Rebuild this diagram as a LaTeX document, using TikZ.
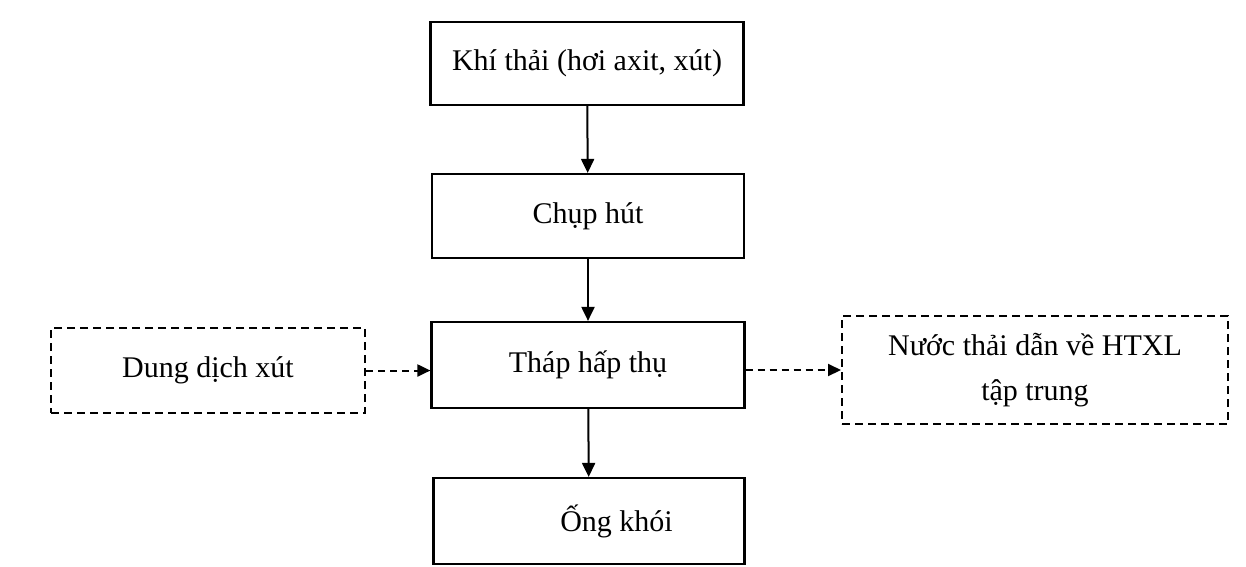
\documentclass[tikz,border=0pt]{standalone}
\usepackage{fontspec}
\setmainfont{Liberation Serif}
\usetikzlibrary{arrows.meta}
\begin{document}
\begin{tikzpicture}[x=1pt,y=-1pt,
  txt/.style={font=\fontsize{30}{45}\selectfont},
  solidbox/.style={draw, line width=2.2pt, inner sep=0pt, txt},
  dashbox/.style={draw, line width=2pt, dash pattern=on 8pt off 5pt, inner sep=0pt, txt, align=center},
  flow/.style={line width=2pt, -{Triangle[length=14pt,width=13pt]}},
  dflow/.style={line width=2pt, dash pattern=on 7pt off 5pt, -{Triangle[length=13pt,width=12pt]}}]
\useasboundingbox (0,0) rectangle (1246,566);
\node[solidbox, minimum width=313pt, minimum height=83pt] (b1) at (587,63.5) {Khí thải (hơi axit, xút)};
\node[solidbox, minimum width=312pt, minimum height=84pt] (b2) at (588,216) {Chụp hút};
\node[solidbox, minimum width=313pt, minimum height=86pt] (b3) at (588,365) {Tháp hấp thụ};
\node[solidbox, minimum width=311pt, minimum height=86pt] (b4) at (589,521) {\hspace*{55pt}Ống khói};
\node[dashbox, minimum width=314pt, minimum height=85pt] (l) at (208,370.5) {Dung dịch xút};
\node[dashbox, minimum width=386pt, minimum height=108pt] (r) at (1035,370) {Nước thải dẫn về HTXL\\tập trung};
\draw[flow] (b1) -- (b2);
\draw[flow] (b2) -- (b3);
\draw[flow] (b3) -- (b4);
\draw[dflow] (l.east) -- (l.east -| b3.west);
\draw[dflow] (b3.east |- r.west) -- (r.west);
\end{tikzpicture}
\end{document}
